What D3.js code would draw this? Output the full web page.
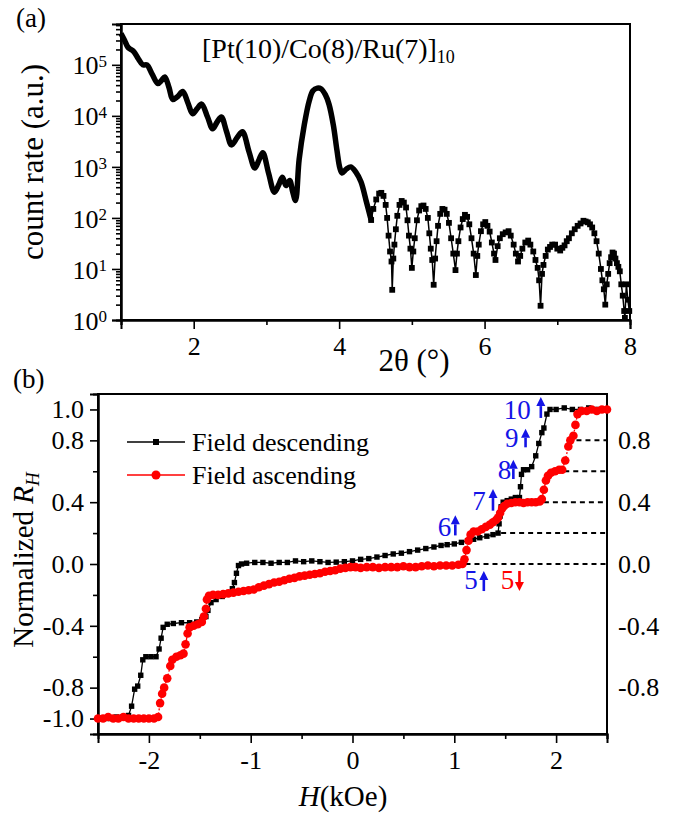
<!DOCTYPE html>
<html><head><meta charset="utf-8">
<script src="https://cdn.jsdelivr.net/npm/d3@7"></script>
<style>
body{margin:0;background:#fff}
svg{display:block}
text{font-family:"Liberation Serif","Times New Roman",serif;fill:#000}
</style>
</head><body>
<svg id="c" width="677" height="817"></svg>
<script>
// ---------- DATA: panel (a) XRR ----------
const xrrAngle = [1.00,1.05,1.096,1.137,1.178,1.24,1.30,1.356,1.43,1.507,1.56,1.603,1.66,1.712,1.78,1.849,1.92,1.986,2.05,2.11,2.19,2.26,2.32,2.38,2.45,2.52,2.60,2.67,2.76,2.84,2.90,2.95,3.03,3.11,3.17,3.22,3.27,3.32,3.36,3.40,3.45,3.52,3.59,3.64,3.70,3.75,3.81,3.86,3.92,3.97,4.01,4.04,4.10,4.16,4.23,4.30,4.37,4.44,
4.47,4.51,4.55,4.58,4.61,4.64,4.66,4.68,4.70,4.72,4.73,4.745,4.76,4.78,4.80,4.83,4.86,4.89,4.92,4.94,4.96,4.98,5.00,5.02,5.04,5.07,5.10,5.13,5.16,5.19,5.22,5.24,5.26,5.28,5.30,5.32,5.34,5.36,5.39,5.42,5.45,5.48,5.51,5.54,5.57,5.60,5.62,5.64,5.67,5.70,5.73,5.76,5.79,5.82,5.85,5.88,5.90,5.92,5.95,5.98,6.01,6.04,6.07,6.10,6.13,6.15,6.18,6.21,6.25,6.29,6.33,6.36,6.40,6.43,6.46,6.49,6.52,6.56,6.60,6.63,6.67,6.70,6.73,6.75,6.77,6.79,6.81,6.84,6.87,6.90,6.93,6.97,7.00,7.04,7.07,7.10,7.13,7.16,7.20,7.24,7.28,7.32,7.36,7.39,7.42,7.45,7.48,7.51,7.54,7.57,7.60,7.62,7.64,7.66,7.68,7.70,7.72,7.74,7.76,7.78,7.80,7.82,7.84,7.86,7.88,7.90,7.92,7.93,7.95,7.97,7.99];
const xrrCount = [4.1e5,3.0e5,2.2e5,2.0e5,1.8e5,1.3e5,1.0e5,1.0e5,6.5e4,4.3e4,5.0e4,5.8e4,3.6e4,2.1e4,2.4e4,3.0e4,1.8e4,1.1e4,1.4e4,1.7e4,9.5e3,5.6e3,7.5e3,9.5e3,5.0e3,2.7e3,3.8e3,4.9e3,2.0e3,950,1.4e3,1.9e3,750,320,450,630,430,540,330,220,1.4e3,6.6e3,2.0e4,3.1e4,3.5e4,3.4e4,2.6e4,1.7e4,6.6e3,2.1e3,950,760,910,1.0e3,790,510,220,91,
150,230,300,310,270,180,100,45,22,14,3.9,16,30,60,110,180,215,200,160,90,45,25,10.5,22,40,90,140,170,175,150,100,50,25,15,4.9,16,35,70,120,150,145,120,80,40,20,9.5,20,35,65,95,115,105,75,40,20,7.6,18,30,55,75,83,70,54,33,20,15,28,40,48,52,55,45,30,20,14,18,25,33,36,30,22,15,10.5,6,1.9,8,12,18,24,27,30,30,25,23,26,29,35,40,50,60,70,78,88,85,82,75,65,50,35,20,10,6,4,2.0,5,8,13,17,21,20,16,13,11,9,5,3,1.5,1.1,5,2.5,1.5];
const xrrDenseLimit = 4.44;
const xrrTicksMajor = [2,4,6,8];
const xrrTicksMinor = [1,3,5,7];
const xrrDecades = [0,1,2,3,4,5];

// ---------- DATA: panel (b) Hall ----------
const descH = [2.48,2.40,2.32,2.24,2.16,2.08,2.00,1.94,1.91,1.88,1.86,1.83,1.80,1.76,1.72,1.68,1.66,1.65,1.64,1.60,1.56,1.52,1.48,1.46,1.45,1.44,1.43,1.38,1.32,1.25,1.19,1.13,1.07,1.00,0.93,0.87,0.80,0.72,0.64,0.56,0.48,0.40,0.32,0.24,0.16,0.08,0.00,-0.08,-0.16,-0.24,-0.32,-0.40,-0.48,-0.56,-0.64,-0.72,-0.80,-0.88,-0.96,-1.04,-1.09,-1.12,-1.14,-1.16,-1.18,-1.22,-1.28,-1.34,-1.39,-1.42,-1.44,-1.48,-1.53,-1.60,-1.68,-1.76,-1.82,-1.86,-1.88,-1.90,-1.93,-1.98,-2.03,-2.06,-2.08,-2.11,-2.14,-2.17,-2.20,-2.26,-2.32,-2.38,-2.44,-2.50];
const descR = [1.00,1.00,1.01,1.00,1.00,1.01,1.00,1.00,0.97,0.88,0.85,0.78,0.70,0.63,0.61,0.61,0.58,0.50,0.43,0.43,0.42,0.41,0.40,0.37,0.31,0.26,0.20,0.19,0.18,0.17,0.16,0.15,0.14,0.13,0.125,0.12,0.11,0.10,0.09,0.08,0.07,0.065,0.055,0.045,0.035,0.03,0.02,0.015,0.012,0.01,0.015,0.02,0.015,0.02,0.01,0.01,0.005,0.01,0.01,0.005,0.0,-0.01,-0.06,-0.12,-0.16,-0.19,-0.21,-0.23,-0.25,-0.30,-0.34,-0.36,-0.375,-0.38,-0.38,-0.385,-0.39,-0.41,-0.48,-0.55,-0.60,-0.60,-0.60,-0.62,-0.72,-0.79,-0.81,-0.92,-0.98,-0.99,-0.99,-1.00,-1.00,-1.00];
const ascH = [-2.50,-2.45,-2.40,-2.35,-2.30,-2.25,-2.20,-2.15,-2.10,-2.05,-2.00,-1.95,-1.91,-1.89,-1.87,-1.85,-1.82,-1.79,-1.77,-1.73,-1.69,-1.66,-1.64,-1.62,-1.60,-1.56,-1.52,-1.48,-1.46,-1.44,-1.43,-1.41,-1.37,-1.32,-1.27,-1.22,-1.17,-1.12,-1.07,-1.02,-0.97,-0.92,-0.87,-0.82,-0.77,-0.72,-0.67,-0.62,-0.57,-0.52,-0.47,-0.42,-0.37,-0.32,-0.27,-0.22,-0.17,-0.12,-0.07,-0.02,0.03,0.08,0.14,0.20,0.26,0.32,0.38,0.44,0.50,0.56,0.62,0.68,0.74,0.80,0.86,0.92,0.98,1.04,1.08,1.10,1.12,1.14,1.16,1.19,1.23,1.27,1.31,1.35,1.38,1.41,1.43,1.45,1.47,1.49,1.52,1.56,1.60,1.64,1.68,1.72,1.76,1.80,1.84,1.86,1.88,1.90,1.92,1.95,1.99,2.03,2.06,2.09,2.12,2.14,2.17,2.19,2.21,2.25,2.30,2.35,2.40,2.45,2.50];
const ascR = [-1.00,-1.00,-0.99,-1.00,-1.00,-0.99,-1.00,-1.00,-1.00,-1.00,-1.00,-1.00,-0.99,-0.90,-0.84,-0.80,-0.74,-0.66,-0.62,-0.60,-0.59,-0.58,-0.52,-0.45,-0.41,-0.40,-0.39,-0.375,-0.34,-0.29,-0.23,-0.205,-0.20,-0.20,-0.195,-0.19,-0.185,-0.18,-0.175,-0.17,-0.165,-0.15,-0.14,-0.13,-0.12,-0.115,-0.105,-0.095,-0.09,-0.08,-0.075,-0.07,-0.065,-0.06,-0.05,-0.045,-0.04,-0.03,-0.025,-0.02,-0.02,-0.025,-0.02,-0.02,-0.025,-0.02,-0.02,-0.02,-0.015,-0.02,-0.02,-0.015,-0.01,-0.015,-0.01,-0.01,-0.01,-0.005,0.00,0.03,0.09,0.15,0.19,0.21,0.21,0.225,0.24,0.255,0.27,0.285,0.30,0.33,0.36,0.375,0.39,0.395,0.40,0.40,0.395,0.40,0.40,0.40,0.405,0.42,0.48,0.54,0.57,0.59,0.60,0.61,0.61,0.67,0.76,0.80,0.83,0.90,0.97,0.99,0.99,1.00,0.99,1.00,1.00];
const hallTicksX = [-2,-1,0,1,2];
const hallTicksXMinor = [-1.5,-0.5,0.5,1.5,2.5];
const hallTicksYLeft = [1.0,0.8,0.4,0.0,-0.4,-0.8,-1.0];
const hallTicksYMinor = [0.6,0.2,-0.2,-0.6];
const hallTicksYRight = [0.8,0.4,0.0,-0.4,-0.8];
const stepLevel = [0.8,0.6,0.4,0.2,0.0];
const stepStartH = [2.20,2.08,1.88,1.46,1.11];
const stepLabel = ["10","9","8","7","6","5","5"];
const stepLabelH = [1.75,1.63,1.56,1.31,0.97,1.23,1.59];
const stepLabelR = [1.0,0.815,0.61,0.41,0.24,-0.10,-0.10];
const stepArrowH = [1.85,1.70,1.58,1.38,1.01,1.29,1.64];
const stepArrowFrom = [0.945,0.755,0.55,0.345,0.185,-0.175,-0.045];
const stepArrowTo = [1.08,0.875,0.675,0.485,0.315,-0.045,-0.175];
const stepColor = ["#1414e6","#1414e6","#1414e6","#1414e6","#1414e6","#1414e6","#ff0000"];

// ---------- DRAW ----------
const svg = d3.select("#c");
const TICKFS = 26;

function styleAxis(g, fs){
  g.select(".domain").attr("stroke","#000").attr("stroke-width",2);
  g.selectAll(".tick line").attr("stroke","#000").attr("stroke-width",1.6);
  g.selectAll(".tick text").attr("font-size",fs).attr("font-family",'"Liberation Serif",serif').attr("fill","#000");
}

// ===== Panel (a) =====
const A = {l:121, r:630, t:24, b:320};
const xA = d3.scaleLinear().domain([1,8]).range([A.l,A.r]);
const yA = d3.scaleLog().domain([1, Math.pow(10,5.8)]).range([A.b,A.t]);

svg.append("rect").attr("x",A.l).attr("y",A.t).attr("width",A.r-A.l).attr("height",A.b-A.t)
  .attr("fill","none").attr("stroke","#000").attr("stroke-width",2);

const gxAm = svg.append("g").attr("transform",`translate(0,${A.b})`)
  .call(d3.axisBottom(xA).tickValues(xrrTicksMinor).tickSize(5).tickFormat(""));
styleAxis(gxAm, TICKFS);
const gxA = svg.append("g").attr("transform",`translate(0,${A.b})`)
  .call(d3.axisBottom(xA).tickValues(xrrTicksMajor).tickSize(9).tickPadding(8).tickFormat(d=>String(d)));
styleAxis(gxA, TICKFS);

const minorLog = [];
xrrDecades.forEach(e=>{ for(let k=2;k<=9;k++){ const v=k*Math.pow(10,e); if(v<=yA.domain()[1]) minorLog.push(v);} });
const gyAm = svg.append("g").attr("transform",`translate(${A.l},0)`)
  .call(d3.axisLeft(yA).tickValues(minorLog).tickSize(5).tickFormat(""));
styleAxis(gyAm, TICKFS);
const gyA = svg.append("g").attr("transform",`translate(${A.l},0)`)
  .call(d3.axisLeft(yA).tickValues(xrrDecades.map(e=>Math.pow(10,e))).tickSize(9).tickPadding(4).tickFormat(""));
styleAxis(gyA, TICKFS);
gyA.selectAll(".tick").each(function(d){
  const t = d3.select(this).append("text").attr("x",-14).attr("dy","0.35em")
    .attr("text-anchor","end").attr("font-size",TICKFS).attr("fill","#000");
  t.append("tspan").text("10");
  t.append("tspan").attr("dy","-0.45em").attr("font-size",17).text(String(Math.round(Math.log10(d))));
});

const ptsA = xrrAngle.map((x,i)=>[x,xrrCount[i]]);
const denseA = ptsA.filter(p=>p[0]<=xrrDenseLimit+0.001);
const sparseA = ptsA.filter(p=>p[0]>=xrrDenseLimit-0.001);
svg.append("path").datum(denseA)
  .attr("d", d3.line().x(p=>xA(p[0])).y(p=>yA(p[1])).curve(d3.curveCatmullRom))
  .attr("fill","none").attr("stroke","#000").attr("stroke-width",5.5).attr("stroke-linejoin","round");
svg.append("path").datum(sparseA)
  .attr("d", d3.line().x(p=>xA(p[0])).y(p=>yA(p[1])))
  .attr("fill","none").attr("stroke","#000").attr("stroke-width",1.5);
svg.append("g").selectAll("rect").data(sparseA).join("rect")
  .attr("x",p=>xA(p[0])-2.9).attr("y",p=>yA(p[1])-2.9).attr("width",5.8).attr("height",5.8).attr("fill","#000");

svg.append("text").attr("x",16).attr("y",27).attr("font-size",27).text("(a)");
const ann = svg.append("text").attr("x",202).attr("y",58).attr("font-size",28);
ann.append("tspan").text("[Pt(10)/Co(8)/Ru(7)]");
ann.append("tspan").attr("dy","0.3em").attr("font-size",18).text("10");
svg.append("text").attr("transform",`translate(43,162) rotate(-90)`)
  .attr("text-anchor","middle").attr("font-size",31).text("count rate (a.u.)");
svg.append("text").attr("x",414).attr("y",371).attr("text-anchor","middle").attr("font-size",31).text("2θ (°)");

// ===== Panel (b) =====
const B = {l:98, r:607, t:394, b:734};
const xB = d3.scaleLinear().domain([-2.5,2.5]).range([B.l,B.r]);
const yB = d3.scaleLinear().domain([-1.1,1.1]).range([B.b,B.t]);

svg.append("rect").attr("x",B.l).attr("y",B.t).attr("width",B.r-B.l).attr("height",B.b-B.t)
  .attr("fill","none").attr("stroke","#000").attr("stroke-width",2);

const gxBm = svg.append("g").attr("transform",`translate(0,${B.b})`)
  .call(d3.axisBottom(xB).tickValues(hallTicksXMinor).tickSize(5).tickFormat(""));
styleAxis(gxBm, TICKFS);
const gxB = svg.append("g").attr("transform",`translate(0,${B.b})`)
  .call(d3.axisBottom(xB).tickValues(hallTicksX).tickSize(9).tickPadding(8).tickFormat(d=>String(d)));
styleAxis(gxB, TICKFS);
const gyBm = svg.append("g").attr("transform",`translate(${B.l},0)`)
  .call(d3.axisLeft(yB).tickValues(hallTicksYMinor).tickSize(5).tickFormat(""));
styleAxis(gyBm, TICKFS);
const gyB = svg.append("g").attr("transform",`translate(${B.l},0)`)
  .call(d3.axisLeft(yB).tickValues(hallTicksYLeft).tickSize(8).tickPadding(6).tickFormat(d=>d.toFixed(1)));
styleAxis(gyB, TICKFS);
const gyBr = svg.append("g").attr("transform",`translate(${B.r},0)`)
  .call(d3.axisRight(yB).tickValues(hallTicksYRight).tickSize(0).tickPadding(11).tickFormat(d=>d.toFixed(1)));
styleAxis(gyBr, TICKFS);
gyBr.select(".domain").remove();

svg.append("g").selectAll("line").data(stepLevel).join("line")
  .attr("x1",(d,i)=>xB(stepStartH[i])).attr("x2",B.r)
  .attr("y1",d=>yB(d)).attr("y2",d=>yB(d))
  .attr("stroke","#000").attr("stroke-width",2).attr("stroke-dasharray","5,4");

const desc = descH.map((h,i)=>[h,descR[i]]);
const asc = ascH.map((h,i)=>[h,ascR[i]]);
const lineB = d3.line().x(p=>xB(p[0])).y(p=>yB(p[1]));
svg.append("path").datum(desc).attr("d",lineB).attr("fill","none").attr("stroke","#000").attr("stroke-width",1.3);
svg.append("g").selectAll("rect").data(desc).join("rect")
  .attr("x",p=>xB(p[0])-2.7).attr("y",p=>yB(p[1])-2.7).attr("width",5.4).attr("height",5.4).attr("fill","#000");
svg.append("path").datum(asc).attr("d",lineB).attr("fill","none").attr("stroke","#ff0000").attr("stroke-width",1.3)
  .attr("stroke-dasharray","6,2,2,2");
svg.append("g").selectAll("circle").data(asc).join("circle")
  .attr("cx",p=>xB(p[0])).attr("cy",p=>yB(p[1])).attr("r",4.3).attr("fill","#ff0000");

function arrow(x, y0, y1, color){
  const dir = y1 < y0 ? -1 : 1;
  const head = 9, hw = 4.5;
  svg.append("line").attr("x1",x).attr("x2",x).attr("y1",y0).attr("y2",y1 - dir*head)
    .attr("stroke",color).attr("stroke-width",2.6);
  svg.append("path").attr("d",`M${x},${y1} L${x-hw},${y1-dir*head} L${x+hw},${y1-dir*head} Z`).attr("fill",color);
}
stepLabel.forEach((s,i)=>{
  svg.append("text").attr("x",xB(stepLabelH[i])).attr("y",yB(stepLabelR[i])).attr("dy","0.35em")
    .attr("text-anchor","end").attr("font-size",27).style("fill",stepColor[i]).text(s);
  arrow(xB(stepArrowH[i]), yB(stepArrowFrom[i]), yB(stepArrowTo[i]), stepColor[i]);
});

const leg = svg.append("g");
[["Field descending","#000","sq",442],["Field ascending","#ff0000","ci",475]].forEach(d=>{
  leg.append("line").attr("x1",127).attr("x2",185).attr("y1",d[3]).attr("y2",d[3]).attr("stroke",d[1]).attr("stroke-width",1.5);
  if(d[2]==="sq") leg.append("rect").attr("x",153).attr("y",d[3]-3).attr("width",6).attr("height",6).attr("fill",d[1]);
  else leg.append("circle").attr("cx",156).attr("cy",d[3]).attr("r",4.5).attr("fill",d[1]);
  leg.append("text").attr("x",192).attr("y",d[3]).attr("dy","0.35em").attr("font-size",26).text(d[0]);
});

svg.append("text").attr("x",13).attr("y",388).attr("font-size",27).text("(b)");
const yt = svg.append("text").attr("transform",`translate(33,${(B.t+B.b)/2-4}) rotate(-90)`)
  .attr("text-anchor","middle").attr("font-size",29);
yt.append("tspan").text("Normalized ");
yt.append("tspan").attr("font-style","italic").text("R");
yt.append("tspan").attr("font-style","italic").attr("font-size",19).attr("dy","0.3em").text("H");
const xt = svg.append("text").attr("x",343).attr("y",806).attr("text-anchor","middle").attr("font-size",29);
xt.append("tspan").attr("font-style","italic").text("H");
xt.append("tspan").text("(kOe)");
</script>
</body></html>
